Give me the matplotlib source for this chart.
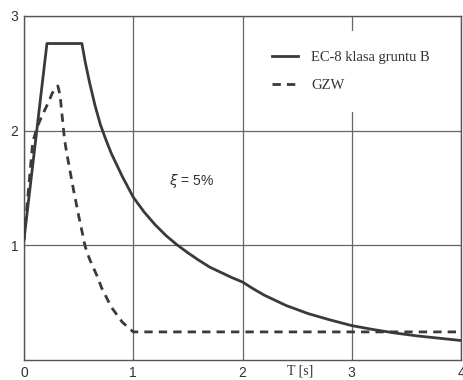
import matplotlib.pyplot as plt

# spectrum EC-8 (soil class B)
ec8_T = [0.0, 0.21, 0.53, 0.56, 0.6, 0.65, 0.7, 0.75, 0.8, 0.85, 0.9, 0.95, 1.0, 1.1,
         1.2, 1.3, 1.4, 1.5, 1.6, 1.7, 1.8, 1.9, 2.0, 2.1, 2.2, 2.4, 2.6, 2.8, 3.0,
         3.2, 3.4, 3.6, 3.8, 4.0]
ec8_S = [1.05, 2.76, 2.76, 2.60, 2.42, 2.22, 2.05, 1.92, 1.80, 1.70, 1.60, 1.51, 1.42,
         1.29, 1.18, 1.085, 1.005, 0.935, 0.87, 0.81, 0.765, 0.72, 0.68, 0.62, 0.565,
         0.475, 0.405, 0.35, 0.30, 0.265, 0.235, 0.21, 0.19, 0.17]

# GZW spectrum
gzw_T = [0.0, 0.08, 0.12, 0.16, 0.22, 0.26, 0.31, 0.33, 0.37, 0.39, 0.45, 0.5, 0.56,
         0.6, 0.67, 0.71, 0.8, 0.9, 1.0, 4.0]
gzw_S = [1.05, 1.90, 2.03, 2.12, 2.24, 2.33, 2.39, 2.31, 1.93, 1.81, 1.50, 1.26, 0.99,
         0.88, 0.73, 0.63, 0.46, 0.33, 0.245, 0.245]

x_ticks = [0, 1, 2, 3, 4]
y_ticks = [1, 2, 3]

fig = plt.figure(figsize=(4.63, 3.8), dpi=100)
ax = fig.add_axes([24 / 463, 20 / 380, 437 / 463, 344 / 380])

line_col = '#3a3a3a'
ax.plot(ec8_T, ec8_S, color=line_col, lw=2.0, label='EC-8 klasa gruntu B', zorder=3)
ax.plot(gzw_T, gzw_S, color=line_col, lw=2.0, ls=(0, (3, 2.2)), label='GZW', zorder=3)

ax.set_xlim(0, 4)
ax.set_ylim(0, 3)
ax.set_xticks(x_ticks)
ax.set_yticks(y_ticks)
ax.grid(True, color='#666666', lw=0.9)
ax.tick_params(length=0, labelsize=10, pad=4)
for lab in ax.get_xticklabels() + ax.get_yticklabels():
    lab.set_family('Liberation Sans')
    lab.set_color('#333333')
for s in ax.spines.values():
    s.set_color('#555555')
    s.set_linewidth(1.0)

ax.set_xlabel('T [s]', family='Liberation Serif', fontsize=10, color='#333333')
ax.xaxis.set_label_coords(0.632, -0.012)

ax.text(1.33, 1.56, r'$\xi$ = 5%', family='Liberation Sans', fontsize=10,
        color='#333333', va='center')

leg = ax.legend(loc='upper left', bbox_to_anchor=(0.522, 0.955), borderaxespad=0,
                frameon=True, fancybox=False, borderpad=1.35, handlelength=1.8,
                handletextpad=0.9, labelspacing=1.0,
                prop={'family': 'Liberation Serif', 'size': 10.5})
leg.get_frame().set_facecolor('white')
leg.get_frame().set_edgecolor('none')
leg.get_frame().set_alpha(1)
for t in leg.get_texts():
    t.set_color('#333333')

fig.savefig('out.png', dpi=100)
